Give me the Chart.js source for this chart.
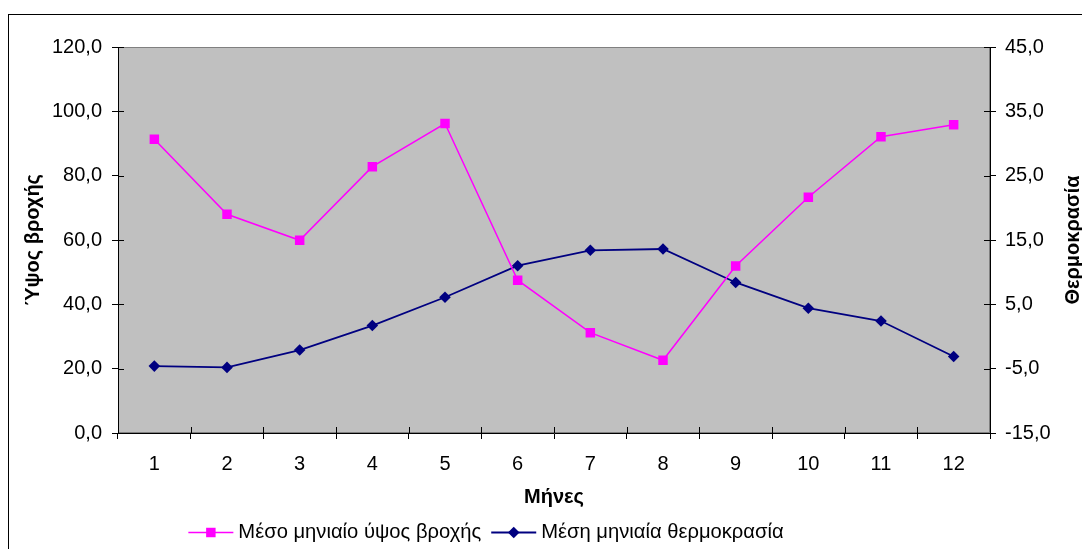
<!DOCTYPE html>
<html>
<head>
<meta charset="utf-8">
<script src="https://cdn.jsdelivr.net/npm/chart.js@4.4.1/dist/chart.umd.min.js"></script>
<style>
  html, body { margin: 0; padding: 0; background: #ffffff; }
  #wrap { width: 1082px; height: 549px; position: relative; }
</style>
</head>
<body>
<div id="wrap"><canvas id="c" width="1082" height="549"></canvas></div>
<script>
const months = ['1', '2', '3', '4', '5', '6', '7', '8', '9', '10', '11', '12'];
const rainfall = [91.3, 68.0, 59.9, 82.8, 96.2, 47.5, 31.2, 22.6, 51.9, 73.3, 92.1, 95.8];
const temperature = [-4.6, -4.8, -2.1, 1.7, 6.1, 11.0, 13.4, 13.6, 8.4, 4.4, 2.4, -3.1];
const leftTickLabels = ['0,0', '20,0', '40,0', '60,0', '80,0', '100,0', '120,0'];
const rightTickLabels = ['-15,0', '-5,0', '5,0', '15,0', '25,0', '35,0', '45,0'];
const seriesNames = ['Μέσο μηνιαίο ύψος βροχής', 'Μέση μηνιαία θερμοκρασία'];
const axisTitles = { x: 'Μήνες', left: 'Ύψος βροχής', right: 'Θερμοκρασία' };

const FONT = "'Liberation Sans', Arial, sans-serif";
const FS = 20;
const PINK = '#FF00FF';
const NAVY = '#000080';
const TL = 6;

const bgPlugin = {
  id: 'bg',
  beforeDraw(chart) {
    const { ctx, chartArea: a } = chart;
    ctx.save();
    ctx.fillStyle = '#C0C0C0';
    ctx.fillRect(a.left, a.top, a.right - a.left, a.bottom - a.top);
    ctx.strokeStyle = '#808080';
    ctx.lineWidth = 1;
    ctx.strokeRect(a.left + 0.5, a.top + 0.5, a.right - a.left - 1, a.bottom - a.top - 1);
    // outer chart border
    ctx.strokeStyle = '#000000';
    ctx.strokeRect(8.5, 14.5, 1090, 560);
    ctx.restore();
  },
  afterDraw(chart) {
    const { ctx, chartArea: a, scales } = chart;
    ctx.save();
    ctx.strokeStyle = '#000000';
    ctx.lineWidth = 1;
    ctx.beginPath();
    // inward parts of crossing ticks
    const xs = scales.x;
    const n = months.length;
    for (let i = 0; i <= n; i++) {
      const px = Math.round(xs.left + i * (xs.right - xs.left) / n) + 0.5;
      ctx.moveTo(px, a.bottom);
      ctx.lineTo(px, a.bottom - TL);
    }
    scales.y.ticks.forEach(t => {
      const py = Math.round(scales.y.getPixelForValue(t.value)) + 0.5;
      ctx.moveTo(a.left, py); ctx.lineTo(a.left + TL, py);
    });
    scales.y1.ticks.forEach(t => {
      const py = Math.round(scales.y1.getPixelForValue(t.value)) + 0.5;
      ctx.moveTo(a.right, py); ctx.lineTo(a.right - TL, py);
    });
    ctx.stroke();

    // right axis title, reading bottom to top
    ctx.save();
    ctx.translate(1073, (a.top + a.bottom) / 2);
    ctx.rotate(-Math.PI / 2);
    ctx.font = 'bold ' + FS + 'px ' + FONT;
    ctx.fillStyle = '#000000';
    ctx.textAlign = 'center';
    ctx.textBaseline = 'middle';
    ctx.fillText(axisTitles.right, 0, 0);
    ctx.restore();

    // legend
    const ds = chart.data.datasets;
    ctx.font = '20.2px ' + FONT;
    ctx.textBaseline = 'middle';
    ctx.textAlign = 'left';
    const lineLen = 45, gap = 5, itemGap = 10;
    const widths = ds.map(d => ctx.measureText(d.label).width);
    const total = widths.reduce((s, w) => s + lineLen + gap + w, 0) + itemGap * (ds.length - 1);
    let x = 486 - total / 2;
    const y = 532.5;
    ds.forEach((d, i) => {
      ctx.strokeStyle = d.borderColor;
      ctx.lineWidth = d.borderWidth;
      ctx.beginPath();
      ctx.moveTo(x, y); ctx.lineTo(x + lineLen, y);
      ctx.stroke();
      ctx.fillStyle = d.pointBackgroundColor;
      ctx.beginPath();
      const cx = x + lineLen / 2;
      if (d.pointStyle === 'rect') {
        const s = d.pointRadius * Math.SQRT1_2;
        ctx.rect(cx - s, y - s, 2 * s, 2 * s);
      } else {
        const r = d.pointRadius;
        ctx.moveTo(cx, y - r); ctx.lineTo(cx + r, y); ctx.lineTo(cx, y + r); ctx.lineTo(cx - r, y); ctx.closePath();
      }
      ctx.fill();
      ctx.fillStyle = '#000000';
      ctx.fillText(d.label, x + lineLen + gap, y);
      x += lineLen + gap + widths[i] + itemGap;
    });
    ctx.restore();
  }
};

new Chart(document.getElementById('c'), {
  type: 'line',
  data: {
    labels: months,
    datasets: [
      {
        label: seriesNames[0],
        data: rainfall,
        yAxisID: 'y',
        borderColor: PINK,
        backgroundColor: PINK,
        pointBackgroundColor: PINK,
        pointBorderColor: PINK,
        pointStyle: 'rect',
        pointRadius: 6.7,
        pointBorderWidth: 0,
        borderWidth: 1.5,
        tension: 0
      },
      {
        label: seriesNames[1],
        data: temperature,
        yAxisID: 'y1',
        borderColor: NAVY,
        backgroundColor: NAVY,
        pointBackgroundColor: NAVY,
        pointBorderColor: NAVY,
        pointStyle: 'rectRot',
        pointRadius: 5.8,
        pointBorderWidth: 0,
        borderWidth: 1.8,
        tension: 0
      }
    ]
  },
  options: {
    responsive: false,
    animation: false,
    layout: { padding: { top: 47, left: 0, right: 0, bottom: 0 } },
    plugins: {
      legend: { display: false },
      tooltip: { enabled: false }
    },
    scales: {
      x: {
        type: 'category',
        offset: true,
        grid: { offset: true, drawOnChartArea: false, drawTicks: true, tickLength: TL, color: '#000000' },
        border: { color: '#000000', width: 1 },
        ticks: { color: '#000000', font: { family: FONT, size: FS }, padding: 13, maxRotation: 0, autoSkip: false },
        title: { display: true, text: axisTitles.x, color: '#000000', font: { family: FONT, size: FS, weight: 'bold' }, padding: { top: 0, bottom: 40 } },
        afterFit(scale) { scale.height = 116; }
      },
      y: {
        position: 'left',
        min: 0, max: 120,
        grid: { drawOnChartArea: false, drawTicks: true, tickLength: TL, color: '#000000' },
        border: { color: '#000000', width: 1 },
        ticks: {
          stepSize: 20, color: '#000000', font: { family: FONT, size: FS }, padding: 10,
          callback: (v, i) => leftTickLabels[i]
        },
        title: { display: true, text: axisTitles.left, color: '#000000', font: { family: FONT, size: FS, weight: 'bold' }, padding: { top: 21.5, bottom: 0 } },
        afterFit(scale) { scale.width = 118; }
      },
      y1: {
        position: 'right',
        min: -15, max: 45,
        grid: { drawOnChartArea: false, drawTicks: true, tickLength: TL, color: '#000000' },
        border: { color: '#000000', width: 1 },
        ticks: {
          stepSize: 10, color: '#000000', font: { family: FONT, size: FS }, padding: 9,
          callback: (v, i) => rightTickLabels[i]
        },
        title: { display: false, text: axisTitles.right },
        afterFit(scale) { scale.width = 92; }
      }
    }
  },
  plugins: [bgPlugin]
});
</script>
</body>
</html>
